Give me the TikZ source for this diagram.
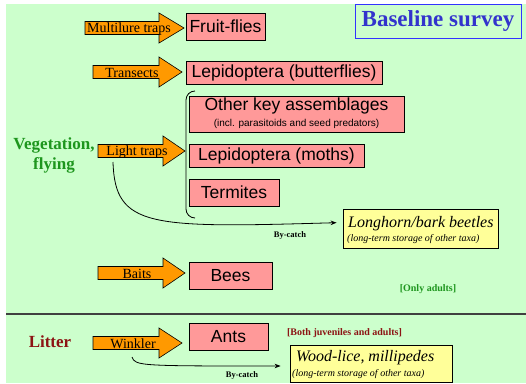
\documentclass[tikz,border=0pt]{standalone}
\usepackage{fontspec}
\setmainfont{Liberation Serif}
\newfontfamily\arialf{Liberation Sans}
\usetikzlibrary{arrows.meta}
\definecolor{bgc}{HTML}{CCFFCC}
\definecolor{pinkc}{HTML}{FF9999}
\definecolor{orangec}{HTML}{FF9900}
\definecolor{yelc}{HTML}{FFFF99}
\definecolor{titlec}{HTML}{3333CC}
\definecolor{titleb}{HTML}{3333FF}
\definecolor{greent}{RGB}{30,150,30}
\definecolor{redt}{RGB}{140,20,20}
\definecolor{divc}{HTML}{404040}
\newcommand{\blockarrow}[4]{\filldraw[blockarr] (#1,#4-6.5) -- (#2,#4-6.5) -- (#2,#4-15) -- (#3,#4) -- (#2,#4+15) -- (#2,#4+6.5) -- (#1,#4+6.5) -- cycle;}
\begin{document}
\begin{tikzpicture}[x=1pt,y=-1pt,
  blockarr/.style={fill=orangec,draw=black,line width=0.6pt,line join=miter},
  arrowlbl/.style={inner sep=0pt,font=\fontsize{14}{16}\selectfont},
  pinkbox/.style={draw=black,line width=0.8pt,fill=pinkc,inner sep=0pt,font=\arialf\fontsize{17.5}{20}\selectfont},
  yelbox/.style={draw=black,line width=0.8pt,fill=yelc,inner sep=0pt},
  bigtxt/.style={inner sep=0pt,font=\arialf\fontsize{17.5}{20}\selectfont},
  smalltxt/.style={inner sep=0pt,font=\arialf\fontsize{10}{12}\selectfont},
  itbig/.style={inner sep=0pt,anchor=west,font=\itshape\fontsize{16}{18}\selectfont},
  itsmall/.style={inner sep=0pt,anchor=west,font=\itshape\fontsize{10}{12}\selectfont},
  bclbl/.style={inner sep=0pt,font=\bfseries\fontsize{8.5}{10}\selectfont},
  notelbl/.style={inner sep=0pt,font=\bfseries\fontsize{10}{12}\selectfont},
  grouplbl/.style={inner sep=0pt,align=center,font=\bfseries\fontsize{17}{20}\selectfont},
  bycatch/.style={line width=0.8pt,-{Stealth[length=6pt,width=4.5pt]}}]
\useasboundingbox (0,0) rectangle (526,383);
\fill[bgc] (6,4) rectangle (526,383);
% title
\node[draw=titleb,line width=1pt,minimum width=166pt,minimum height=34pt,inner sep=0pt,
  text=titlec,font=\bfseries\fontsize{23}{26}\selectfont] (title) at (438,21) {Baseline survey};
% divider
\draw[divc,line width=1.2pt] (6,314) -- (526,314);
% group labels
\node[grouplbl,text=greent] (veg) at (54,155) {Vegetation,\\flying};
\node[grouplbl,text=redt] (lit) at (50,342) {Litter};
% block arrows
\blockarrow{85}{159}{184}{28}
\blockarrow{93}{159}{182}{72}
\blockarrow{98}{163}{185}{151}
\blockarrow{98}{163}{185}{273}
\blockarrow{93}{159}{182}{343}
\node[arrowlbl] (mlt) at (129,29) {Multilure traps};
\node[arrowlbl] (trs) at (132,73) {Transects};
\node[arrowlbl] (ltr) at (137,152) {Light traps};
\node[arrowlbl] (bts) at (137,274) {Baits};
\node[arrowlbl] (wkl) at (133,344) {Winkler};
% pink boxes
\node[pinkbox,minimum width=79pt,minimum height=27pt] (fruit) at (225.5,26.5) {Fruit-flies};
\node[pinkbox,minimum width=196pt,minimum height=23pt] (butter) at (284,72.5) {Lepidoptera (butterflies)};
\node[pinkbox,minimum width=215pt,minimum height=36pt] (other) at (296.5,114) {};
\node[bigtxt] (othert) at (296.5,105.5) {Other key assemblages};
\node[smalltxt] (others) at (296.5,123.5) {(incl. parasitoids and seed predators)};
\node[pinkbox,minimum width=175pt,minimum height=23pt] (moths) at (276.5,155.5) {Lepidoptera (moths)};
\node[pinkbox,minimum width=90pt,minimum height=27pt] (term) at (234,192.5) {Termites};
\node[pinkbox,minimum width=83pt,minimum height=27pt] (bees) at (230.5,275.5) {Bees};
\node[pinkbox,minimum width=79pt,minimum height=27pt] (ants) at (228.5,336.5) {Ants};
% brace
\draw[line width=0.8pt] (195,91) to[out=180,in=90] (186,100) -- (186,209) to[out=-90,in=180] (195,218);
% yellow boxes
\node[yelbox,minimum width=155pt,minimum height=39pt] (long) at (420.5,228.5) {};
\node[itbig] (longt) at (348,223.5) {Longhorn/bark beetles};
\node[itsmall] (longs) at (347,239.5) {(long-term storage of other taxa)};
\node[yelbox,minimum width=162pt,minimum height=37pt] (wood) at (371,363.5) {};
\node[itbig] (woodt) at (296,358) {Wood-lice, millipedes};
\node[itsmall] (woods) at (292,374) {(long-term storage of other taxa)};
% notes
\node[bclbl] (bc1) at (290,235) {By-catch};
\node[bclbl] (bc2) at (242,375) {By-catch};
\node[notelbl,text=greent] (only) at (428,289) {[Only adults]};
\node[notelbl,text=redt] (both) at (344.5,333) {[Both juveniles and adults]};
% by-catch connectors
\coordinate (bcs1) at (113,162);
\coordinate (bcs2) at (132,357);
\draw[bycatch,shorten >=6pt] (bcs1) .. controls (115,228) and (150,228) .. ([yshift=6pt]long.west);
\draw[bycatch,shorten >=9pt] (bcs2) .. controls (135,366) and (140,366) .. ([yshift=-2.5pt]wood.west);
\end{tikzpicture}
\end{document}
